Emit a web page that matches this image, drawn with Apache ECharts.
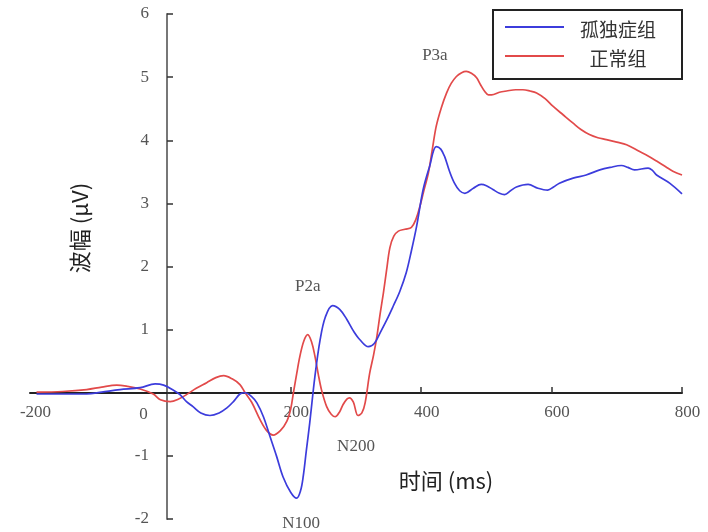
<!DOCTYPE html>
<html>
<head>
<meta charset="utf-8">
<script src="https://cdn.jsdelivr.net/npm/echarts@6/dist/echarts.min.js"></script>
<style>
  html, body { margin: 0; padding: 0; background: #fff; }
  #chart { width: 708px; height: 532px; }
</style>
</head>
<body>
<div id="chart"></div>
<script>
// Grand-average ERP waveforms (ms vs µV)
var seriesNames = ['孤独症组', '正常组'];

var autismTime = [-190, -150, -113, -90, -62, -31, -8, 5, 20, 30, 40, 50, 62, 76, 90, 102, 112, 122, 130, 140,
  148, 158, 168, 178, 188, 200, 209, 215, 219, 224, 229, 237, 245, 253, 264, 275, 286, 296, 306, 319,
  328, 337, 347, 357, 367, 377, 385, 393, 403, 413, 423, 430, 436, 443, 451, 459, 467, 480, 492, 500,
  510, 520, 528, 537, 546, 564, 579, 594, 603, 612, 633, 653, 674, 690, 707, 717, 727, 748, 755, 761,
  781, 800];
var autismAmp = [-0.02, -0.02, -0.02, 0.01, 0.05, 0.08, 0.14, 0.12, 0.04, -0.03, -0.14, -0.22, -0.32, -0.36, -0.32, -0.24, -0.14, -0.02, 0.0, -0.06,
  -0.16, -0.38, -0.69, -1.0, -1.33, -1.58, -1.67, -1.55, -1.33, -0.9, -0.48, 0.26, 0.84, 1.2, 1.38, 1.32, 1.16, 0.98, 0.84, 0.73,
  0.78, 0.95, 1.15, 1.37, 1.6, 1.9, 2.25, 2.64, 3.22, 3.59, 3.9, 3.86, 3.74, 3.52, 3.32, 3.2, 3.16, 3.24, 3.3, 3.28,
  3.22, 3.16, 3.14, 3.2, 3.26, 3.3, 3.24, 3.21, 3.26, 3.32, 3.4, 3.45, 3.53, 3.57, 3.6, 3.57, 3.53, 3.56, 3.52, 3.45,
  3.32, 3.15];

var controlTime = [-190, -150, -113, -90, -67, -50, -31, -11, 0, 15, 28, 40, 55, 71, 85, 97, 110, 122, 130, 140,
  153, 163, 173, 184, 194, 200, 204, 209, 214, 220, 226, 232, 237, 242, 247, 255, 262, 268, 275, 280,
  286, 290, 296, 303, 309, 314, 321, 327, 332, 337, 342, 347, 352, 358, 365, 375, 385, 392, 398, 404,
  411, 417, 423, 431, 439, 446, 454, 462, 469, 477, 485, 491, 497, 503, 508, 520, 531, 545, 556, 567,
  577, 590, 602, 618, 633, 645, 658, 671, 684, 700, 715, 735, 748, 761, 775, 786, 800];
var controlAmp = [0.01, 0.02, 0.05, 0.09, 0.12, 0.10, 0.06, -0.02, -0.11, -0.14, -0.1, -0.03, 0.07, 0.16, 0.24, 0.27, 0.22, 0.13, 0.0, -0.15,
  -0.43, -0.6, -0.67, -0.6, -0.45, -0.25, 0.0, 0.3, 0.58, 0.82, 0.92, 0.8, 0.58, 0.3, 0.05, -0.22, -0.34, -0.38, -0.3, -0.19,
  -0.1, -0.08, -0.15, -0.36, -0.32, -0.16, 0.31, 0.6, 0.89, 1.25, 1.58, 1.95, 2.3, 2.48, 2.56, 2.59, 2.62, 2.75, 2.95, 3.2,
  3.48, 3.85, 4.22, 4.52, 4.75, 4.9, 5.01, 5.07, 5.09, 5.06, 4.99, 4.88, 4.78, 4.72, 4.72, 4.76, 4.78, 4.8, 4.8, 4.78,
  4.75, 4.66, 4.54, 4.4, 4.27, 4.17, 4.09, 4.04, 4.01, 3.97, 3.93, 3.82, 3.75, 3.67, 3.58, 3.51, 3.45];

// Component labels: name, anchor time, anchor amplitude, extra downward shift
var componentNames = ['P3a', 'P2a', 'N200', 'N100'];
var componentTime = [421, 226, 300, 216];
var componentAmp = [5.37, 1.71, -0.82, -2.0];
var componentShift = [2, 2, 2, 5];

var xTickValues = [200, 400, 600, 800];
var xLabelValues = [-200, 0, 200, 400, 600, 800];

function pairs(xs, ys) {
  return xs.map(function (x, i) { return [x, ys[i]]; });
}

var serifFont = '"Liberation Serif", "DejaVu Serif", serif';
var cjkFont = '"Noto Sans CJK SC", "Noto Sans", sans-serif';

var chart = echarts.init(document.getElementById('chart'), null, { renderer: 'canvas' });

var option = {
  animation: false,
  backgroundColor: '#fff',
  grid: { left: 30, right: 26, top: 14, bottom: 13, containLabel: false, outerBoundsMode: 'none' },
  legend: {
    data: seriesNames,
    orient: 'vertical',
    left: 493,
    top: 10,
    icon: 'rect',
    itemWidth: 59,
    itemHeight: 2,
    itemGap: 5,
    padding: [5, 15, 11, 12],
    borderColor: '#222',
    borderWidth: 2,
    borderRadius: 0,
    formatter: function (name) { return '{t|' + name + '}'; },
    textStyle: {
      fontFamily: cjkFont,
      fontSize: 19,
      color: '#333',
      rich: {
        t: { width: 98, align: 'center', fontFamily: cjkFont, fontSize: 19, lineHeight: 22, color: '#333', padding: [5, 0, 0, 0] }
      }
    }
  },
  xAxis: {
    type: 'value',
    min: -200,
    max: 800,
    interval: 200,
    position: 'bottom',
    offset: -126,
    axisLine: { onZero: false, lineStyle: { color: '#222', width: 2 } },
    axisTick: { show: true, inside: true, length: 6, customValues: xTickValues, lineStyle: { color: '#333', width: 1.5 } },
    axisLabel: {
      customValues: xLabelValues,
      margin: 11,
      fontFamily: serifFont,
      fontSize: 17,
      color: '#555',
      formatter: function (v) {
        return v === 0 ? '{z|0}' : '{n|' + v + '}';
      },
      rich: {
        z: { fontFamily: serifFont, fontSize: 17, color: '#555', padding: [2, 34, 0, 0] },
        n: { fontFamily: serifFont, fontSize: 17, color: '#555', padding: [0, 0, 0, 11] }
      }
    },
    splitLine: { show: false }
  },
  yAxis: {
    type: 'value',
    min: -2,
    max: 6,
    interval: 1,
    position: 'left',
    offset: -137,
    axisLine: { show: true, onZero: false, lineStyle: { color: '#777', width: 2 } },
    axisTick: { show: true, inside: true, length: 6, lineStyle: { color: '#333', width: 1.5 } },
    axisLabel: {
      margin: 18,
      fontFamily: serifFont,
      fontSize: 17,
      color: '#555',
      formatter: function (v) { return v === 0 ? '' : String(v); }
    },
    splitLine: { show: false }
  },
  series: [
    {
      name: seriesNames[0],
      type: 'line',
      data: pairs(autismTime, autismAmp),
      smooth: 0.35,
      showSymbol: false,
      symbol: 'none',
      lineStyle: { color: '#3c3cdc', width: 1.7 },
      itemStyle: { color: '#3c3cdc' },
      z: 3
    },
    {
      name: seriesNames[1],
      type: 'line',
      data: pairs(controlTime, controlAmp),
      smooth: 0.35,
      showSymbol: false,
      symbol: 'none',
      lineStyle: { color: '#e24a4a', width: 1.7 },
      itemStyle: { color: '#e24a4a' },
      z: 2,
      markPoint: {
        symbol: 'rect',
        symbolSize: 1,
        itemStyle: { color: 'rgba(0,0,0,0)' },
        label: {
          show: true,
          position: 'inside',
          formatter: '{b}',
          fontFamily: serifFont,
          fontSize: 17,
          color: '#555'
        },
        data: componentNames.map(function (n, i) {
          return {
            name: n,
            coord: [componentTime[i], componentAmp[i]],
            label: { offset: [0, componentShift[i]] }
          };
        })
      }
    }
  ],
  graphic: [
    {
      type: 'text',
      x: 446,
      y: 481,
      style: { text: '时间 (ms)', font: '22px ' + cjkFont, fill: '#222', align: 'center', verticalAlign: 'middle' }
    },
    {
      type: 'text',
      x: 80,
      y: 228,
      rotation: Math.PI / 2,
      style: { text: '波幅 (μV)', font: '22px ' + cjkFont, fill: '#222', align: 'center', verticalAlign: 'middle' }
    }
  ]
};

chart.setOption(option);
</script>
</body>
</html>
